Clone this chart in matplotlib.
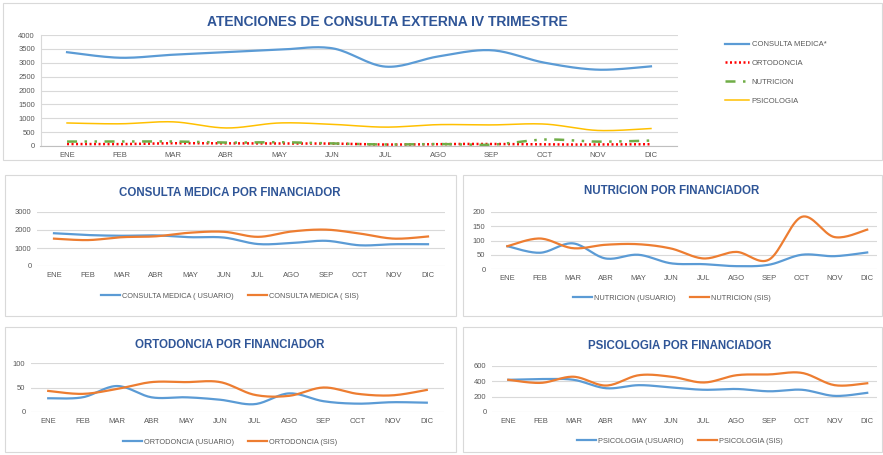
import numpy as np
import matplotlib.pyplot as plt
from matplotlib.patches import Rectangle

plt.rcParams['font.family'] = ['Liberation Sans', 'DejaVu Sans']

#%% data
meses = ['ENE', 'FEB', 'MAR', 'ABR', 'MAY', 'JUN', 'JUL', 'AGO', 'SEP', 'OCT', 'NOV', 'DIC']

# totales (grafico superior)
consulta_total = [3380, 3180, 3290, 3380, 3470, 3520, 2860, 3230, 3450, 3000, 2750, 2870]
ortodoncia_total = [71, 67, 100, 91, 91, 86, 51, 71, 72, 54, 54, 64]
nutricion_total = [160, 164, 163, 122, 137, 92, 54, 70, 48, 233, 157, 196]
psicologia_total = [830, 800, 870, 650, 830, 780, 680, 770, 760, 790, 560, 630]

# por financiador
consulta_usuario = [1820, 1720, 1680, 1700, 1600, 1580, 1220, 1280, 1400, 1150, 1210, 1210]
consulta_sis = [1520, 1440, 1600, 1650, 1850, 1900, 1620, 1920, 2020, 1800, 1520, 1640]
nutricion_usuario = [80, 57, 90, 37, 50, 20, 17, 10, 15, 50, 45, 58]
nutricion_sis = [80, 107, 73, 85, 87, 72, 37, 60, 33, 183, 112, 138]
ortodoncia_usuario = [28, 30, 53, 30, 30, 25, 16, 38, 22, 17, 20, 19]
ortodoncia_sis = [43, 37, 47, 61, 61, 61, 35, 33, 50, 37, 34, 45]
psicologia_usuario = [420, 430, 420, 310, 350, 320, 290, 300, 270, 290, 210, 250]
psicologia_sis = [420, 380, 460, 345, 480, 460, 385, 480, 490, 510, 350, 375]

AZUL = '#5B9BD5'
NARANJA = '#ED7D31'
TITULO = '#2F5597'
GRIS = '#595959'
GRILLA = '#D9D9D9'

W, H = 883, 455


def suave(y, n=20):
    # curva suavizada tipo excel (bezier por catmull-rom) solo para dibujar
    y = np.asarray(y, float)
    x = np.arange(len(y), dtype=float)
    xs, ys = [], []
    for i in range(len(y) - 1):
        i0 = max(i - 1, 0)
        i3 = min(i + 2, len(y) - 1)
        p0 = np.array([x[i], y[i]])
        p3 = np.array([x[i + 1], y[i + 1]])
        p1 = p0 + (np.array([x[i + 1], y[i + 1]]) - np.array([x[i0], y[i0]])) / 6
        p2 = p3 - (np.array([x[i3], y[i3]]) - np.array([x[i], y[i]])) / 6
        t = np.linspace(0, 1, n)[:, None]
        b = (1 - t)**3 * p0 + 3 * (1 - t)**2 * t * p1 + 3 * (1 - t) * t**2 * p2 + t**3 * p3
        xs.extend(b[:, 0]); ys.extend(b[:, 1])
    return np.array(xs), np.array(ys)


def px_axes(fig, left, right, top, bottom):
    return fig.add_axes([left / W, 1 - bottom / H, (right - left) / W, (bottom - top) / H])


def estilo(ax, yticks, xmax=11.5, fs=5.5):
    ax.set_xlim(-0.5, xmax)
    ax.set_ylim(yticks[0], yticks[-1])
    ax.set_yticks(yticks)
    ax.set_xticks(range(len(meses)))
    ax.set_xticklabels(meses)
    ax.tick_params(axis='both', length=0, labelsize=fs, colors=GRIS, pad=4)
    ax.grid(axis='y', color=GRILLA, lw=0.8)
    ax.set_axisbelow(True)
    for s in ax.spines.values():
        s.set_visible(False)
    ax.patch.set_alpha(0)


fig = plt.figure(figsize=(W / 100, H / 100), dpi=100)

# marcos
for (x0, y0, x1, y1) in [(3, 3, 882, 160), (5, 175, 456, 316), (463, 175, 882, 316),
                         (5, 327, 456, 452), (463, 327, 882, 452)]:
    fig.patches.append(Rectangle((x0 / W, 1 - y1 / H), (x1 - x0) / W, (y1 - y0) / H,
                                 transform=fig.transFigure, fill=False, ec=GRILLA, lw=0.8))

#%% grafico superior
ax = px_axes(fig, 40.5, 677.5, 35, 146)
estilo(ax, [0, 500, 1000, 1500, 2000, 2500, 3000, 3500, 4000])
ax.spines['left'].set_visible(True)
ax.spines['left'].set_color(GRILLA)
ax.spines['bottom'].set_visible(True)
ax.spines['bottom'].set_color('#BFBFBF')
ax.plot(*suave(consulta_total), color=AZUL, lw=1.6, label='CONSULTA MEDICA*')
ax.plot(*suave(ortodoncia_total), color='#FF0000', lw=1.8, ls=(0, (0.8, 1.0)), label='ORTODONCIA')
ax.plot(*suave(nutricion_total), color='#70AD47', lw=1.8, ls=(0, (4, 3, 1, 3, 1, 3)), label='NUTRICION')
ax.plot(*suave(psicologia_total), color='#FFC000', lw=1.1, label='PSICOLOGIA')
fig.text(387 / W, 1 - 22 / H, 'ATENCIONES DE CONSULTA EXTERNA IV TRIMESTRE', ha='center', va='center',
         fontsize=10, fontweight='bold', color=TITULO)
leg = ax.legend(loc='upper left', bbox_to_anchor=(718 / W, 1 - 34 / H), bbox_transform=fig.transFigure,
                frameon=False, fontsize=5.5, labelspacing=1.5, handlelength=3.2, handletextpad=0.3)
for t in leg.get_texts():
    t.set_color(GRIS)

#%% graficos por financiador
paneles = [
    ('CONSULTA MEDICA POR FINANCIADOR', consulta_usuario, consulta_sis,
     'CONSULTA MEDICA ( USUARIO)', 'CONSULTA MEDICA ( SIS)', [0, 1000, 2000, 3000],
     (37, 445, 212, 266), 230, 193, 296, 11.5),
    ('NUTRICION POR FINANCIADOR', nutricion_usuario, nutricion_sis,
     'NUTRICION (USUARIO)', 'NUTRICION (SIS)', [0, 50, 100, 150, 200],
     (491, 877, 212, 269), 672, 191, 298, 11.3),
    ('ORTODONCIA POR FINANCIADOR', ortodoncia_usuario, ortodoncia_sis,
     'ORTODONCIA (USUARIO)', 'ORTODONCIA (SIS)', [0, 50, 100],
     (31, 444, 363, 412), 230, 345, 442, 11.5),
    ('PSICOLOGIA POR FINANCIADOR', psicologia_usuario, psicologia_sis,
     'PSICOLOGIA (USUARIO)', 'PSICOLOGIA (SIS)', [0, 200, 400, 600],
     (492, 877, 366, 412), 680, 346, 441, 11.3),
]

for titulo, usu, sis, lab_u, lab_s, yt, caja, tx, ty, ly, xmax in paneles:
    l, r, t, b = caja
    ax = px_axes(fig, l, r, t, b)
    estilo(ax, yt, xmax=xmax)
    ax.plot(*suave(usu), color=AZUL, lw=1.6, label=lab_u)
    ax.plot(*suave(sis), color=NARANJA, lw=1.6, label=lab_s)
    fig.text(tx / W, 1 - ty / H, titulo, ha='center', va='center', fontsize=8.3,
             fontweight='bold', color=TITULO)
    leg = ax.legend(loc='center', bbox_to_anchor=(tx / W, 1 - ly / H), bbox_transform=fig.transFigure,
                    ncol=2, frameon=False, fontsize=5.3, handlelength=2.6, handletextpad=0.2,
                    columnspacing=2.0)
    for tt in leg.get_texts():
        tt.set_color(GRIS)

fig.savefig('out.png', dpi=100)
